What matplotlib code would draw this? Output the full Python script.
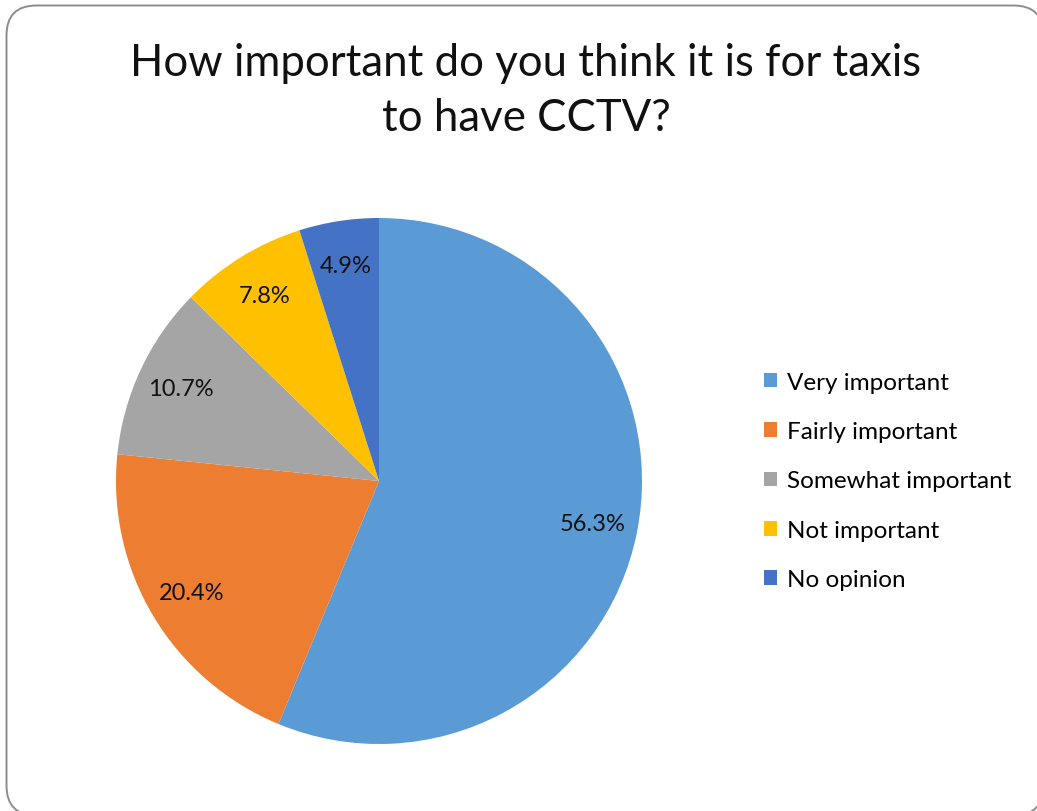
import matplotlib
matplotlib.use('Agg')
import matplotlib.pyplot as plt
from matplotlib.patches import FancyBboxPatch, Patch

plt.rcParams['font.family'] = ['Lato', 'DejaVu Sans']

# survey answers
categories = ['Very important', 'Fairly important', 'Somewhat important',
              'Not important', 'No opinion']
shares = [56.3, 20.4, 10.7, 7.8, 4.9]
colours = ['#5B9BD5', '#ED7D31', '#A5A5A5', '#FFC000', '#4472C4']

W, H, DPI = 1037, 812, 100
fig = plt.figure(figsize=(W / DPI, H / DPI), dpi=DPI)

# rounded frame round the chart area (its right and bottom edges sit just off the canvas)
# filled white so agg does not clip (and bend) the corner curves at the canvas edge
bg = fig.add_axes([0, 0, 1, 1], zorder=-1)
bg.set_xlim(0, W)
bg.set_ylim(H, 0)
bg.axis('off')
frame = FancyBboxPatch((6.5, 6.5), 1037, 810,
                       boxstyle='round,pad=0,rounding_size=30',
                       facecolor='white', edgecolor='#8c8c8c', linewidth=1.4)
bg.add_patch(frame)

fig.text(526 / W, 1 - 91 / H, 'How important do you think it is for taxis\nto have CCTV?',
         ha='center', va='center', fontsize=31.5, linespacing=1.45, color='#111111')

r = 263
cx, cy = 379, 482
ax = fig.add_axes([(cx - r) / W, (H - cy - r) / H, 2 * r / W, 2 * r / H])
wedges, texts, autotexts = ax.pie(shares, colors=colours, startangle=90,
                                  counterclock=False, autopct='%.1f%%',
                                  pctdistance=0.83, radius=1,
                                  wedgeprops=dict(linewidth=0))
# label each slice with its own share rather than the renormalised one
for t, v in zip(autotexts, shares):
    t.set_text(f'{v:.1f}%')
    t.set_fontsize(17)
    t.set_color('#111111')
ax.set_xlim(-1, 1)
ax.set_ylim(-1, 1)

handles = [Patch(facecolor=c, edgecolor='none') for c in colours]
fig.legend(handles, categories, loc='center left',
           bbox_to_anchor=(764 / W, 1 - 482 / H), frameon=False,
           fontsize=17.5, handlelength=0.55, handleheight=0.55,
           handletextpad=0.4, labelspacing=1.17, borderaxespad=0,
           borderpad=0)

fig.savefig('out.png', dpi=DPI)
